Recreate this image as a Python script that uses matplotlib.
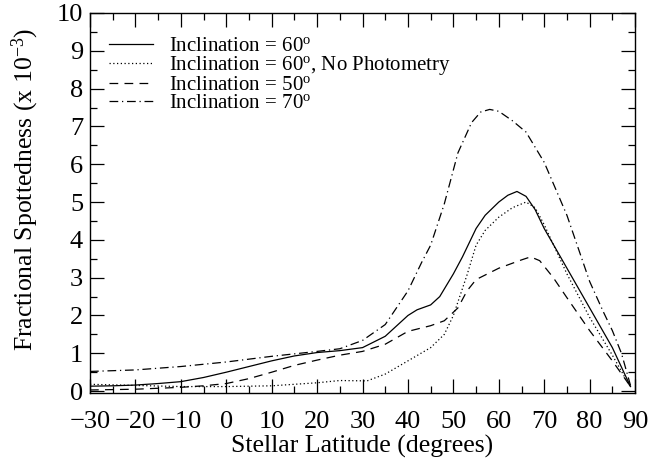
import matplotlib
matplotlib.use("Agg")
import matplotlib.pyplot as plt
from matplotlib.ticker import MultipleLocator

plt.rcParams["font.family"] = ["Liberation Serif", "DejaVu Serif"]
plt.rcParams["mathtext.fontset"] = "custom"
plt.rcParams["mathtext.rm"] = "Liberation Serif"
plt.rcParams["mathtext.it"] = "Liberation Serif:italic"

# values (latitude in degrees, spottedness x 1e-3)
lat_i60 = [-30, -25, -20, -15, -10, -5, 0, 5, 10, 15, 20, 25, 30, 35, 40, 42, 45, 47, 50, 52, 55, 57, 60, 62, 64, 66, 68, 70, 75, 80, 85, 89]
spot_i60 = [0.13, 0.14, 0.16, 0.2, 0.25, 0.36, 0.5, 0.65, 0.8, 0.93, 1.02, 1.07, 1.15, 1.45, 2.0, 2.15, 2.28, 2.5, 3.1, 3.55, 4.3, 4.65, 5.0, 5.18, 5.28, 5.15, 4.8, 4.3, 3.25, 2.2, 1.15, 0.12]

lat_nophot = [-30, -20, -10, 0, 10, 20, 25, 31, 35, 40, 45, 48, 50, 53, 55, 57, 60, 63, 66, 68, 70, 75, 80, 85, 89]
spot_nophot = [0.18, 0.15, 0.12, 0.12, 0.14, 0.22, 0.28, 0.27, 0.45, 0.8, 1.15, 1.5, 2.0, 3.07, 3.86, 4.25, 4.6, 4.85, 5.0, 4.85, 4.4, 3.1, 1.95, 0.95, 0.1]

lat_i50 = [-30, -20, -10, -5, 0, 5, 10, 15, 20, 25, 30, 35, 40, 45, 48, 51, 53, 55, 60, 65, 67, 69, 72, 75, 80, 85, 89]
spot_i50 = [0.03, 0.05, 0.1, 0.14, 0.2, 0.33, 0.5, 0.68, 0.82, 0.95, 1.05, 1.24, 1.58, 1.73, 1.86, 2.2, 2.65, 2.95, 3.25, 3.47, 3.55, 3.45, 3.0, 2.47, 1.6, 0.8, 0.12]

lat_i70 = [-30, -20, -10, 0, 10, 20, 25, 30, 35, 40, 43, 45, 48, 51, 54, 56, 58, 60, 63, 66, 70, 75, 80, 83, 85, 87, 89]
spot_i70 = [0.52, 0.56, 0.65, 0.77, 0.92, 1.05, 1.12, 1.34, 1.76, 2.65, 3.4, 3.86, 4.95, 6.3, 7.1, 7.38, 7.45, 7.4, 7.15, 6.85, 6.05, 4.65, 2.9, 2.1, 1.6, 1.0, 0.15]

fig = plt.figure(figsize=(6.68, 4.59), dpi=100)
ax = fig.add_axes([0.1347, 0.1438, 0.816, 0.8279])

lw = 0.9
ax.plot(lat_i60, spot_i60, color="black", lw=lw, ls="-",
        label="Inclination = 60$^{\\rm o}$")
ax.plot(lat_nophot, spot_nophot, color="black", lw=lw, ls=(0, (1, 2)),
        label="Inclination = 60$^{\\rm o}$, No Photometry")
ax.plot(lat_i50, spot_i50, color="black", lw=lw, ls=(0, (7, 5)),
        label="Inclination = 50$^{\\rm o}$")
ax.plot(lat_i70, spot_i70, color="black", lw=lw, ls=(0, (7, 3, 1, 3)),
        label="Inclination = 70$^{\\rm o}$")

ax.set_xlim(-30, 90)
ax.set_ylim(-0.05, 10)
ax.xaxis.set_major_locator(MultipleLocator(10))
ax.xaxis.set_minor_locator(MultipleLocator(5))
ax.yaxis.set_major_locator(MultipleLocator(1))
ax.yaxis.set_minor_locator(MultipleLocator(0.5))
ax.tick_params(which="both", direction="in", top=True, right=True, labelsize=19, width=0.9)
ax.tick_params(which="major", length=10)
ax.tick_params(which="minor", length=5)
ax.tick_params(axis="x", which="major", pad=13)
ax.tick_params(axis="y", which="major", pad=5)
for s in ax.spines.values():
    s.set_linewidth(1.0)

ax.set_xlabel("Stellar Latitude (degrees)", fontsize=18.5, labelpad=1)
ax.set_ylabel("Fractional Spottedness (x 10$^{-3}$)", fontsize=18.5)
ax.yaxis.set_label_coords(-0.09, 0.535)

ax.legend(loc="upper left", frameon=False, fontsize=15, handlelength=2.1,
          handletextpad=0.75, labelspacing=-0.08, borderaxespad=0.0,
          bbox_to_anchor=(0.02, 0.96))

fig.savefig("out.png", dpi=100)
